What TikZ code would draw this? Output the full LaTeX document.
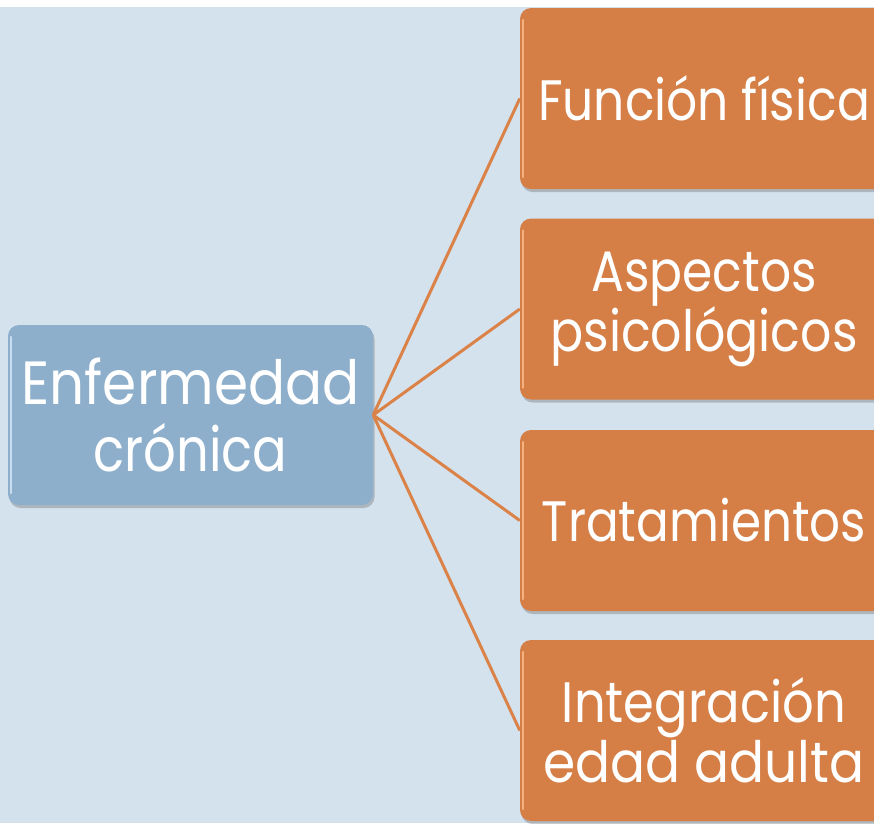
\documentclass[tikz,border=0pt]{standalone}
\usepackage{fontspec}
\setmainfont{Poppins}
\usetikzlibrary{shadows}
\definecolor{bgblue}{HTML}{D4E2ED}
\definecolor{boxorange}{HTML}{D57E46}
\definecolor{boxblue}{HTML}{8EAFCB}
\definecolor{linkorange}{HTML}{DA8248}
\definecolor{hiorange}{HTML}{F4B27F}
\definecolor{hiblue}{HTML}{C9DDF0}
% horizontally condensed line of text
\newcommand{\narrow}[2]{\scalebox{#1}[1]{#2}}
\tikzset{
  box/.style={rectangle, rounded corners=11pt, inner sep=0pt, text=white,
    align=center,
    drop shadow={shadow xshift=1.5pt, shadow yshift=-3pt, opacity=.35, fill=black!60}},
  branch/.style={box, fill=boxorange, minimum width=368pt, minimum height=181pt,
    font=\fontsize{57}{60}\selectfont,
    path picture={\draw[hiorange, line width=2.5pt, line cap=round]
      ([xshift=3pt,yshift=-12pt]path picture bounding box.north west) --
      ([xshift=3pt,yshift=12pt]path picture bounding box.south west);}},
  root/.style={box, fill=boxblue, minimum width=365pt, minimum height=180pt,
    font=\fontsize{61}{67}\selectfont,
    path picture={\draw[hiblue, line width=2.5pt, line cap=round]
      ([xshift=3pt,yshift=-12pt]path picture bounding box.north west) --
      ([xshift=3pt,yshift=12pt]path picture bounding box.south west);}},
  link/.style={linkorange, line width=3pt}
}
\begin{document}
\begin{tikzpicture}[x=1pt,y=-1pt]
  \useasboundingbox (0,0) rectangle (874,823);
  \clip (0,0) rectangle (874,823);
  % backdrop with a white strip along the top edge
  \fill[white] (0,0) rectangle (874,823);
  \fill[bgblue] (0,7) rectangle (874,823);

  % central topic
  \node[root] (c) at (190.5,415) {\narrow{0.90}{Enfermedad}\\\narrow{0.84}{crónica}};

  % branches, running off the right edge
  \node[branch] (b1) at (704,98.5) {\narrow{0.855}{Función física}};
  \node[branch] (b2) at (704,309) {\narrow{0.855}{Aspectos}\\\narrow{0.86}{psicológicos}};
  \node[branch] (b3) at (704,520.5) {\narrow{0.85}{Tratamientos}};
  \node[branch] (b4) at (704,730.5) {\narrow{0.87}{Integración}\\\narrow{0.91}{edad adulta}};

  % connectors
  \foreach \b in {b1,b2,b3,b4}
    \draw[link] (c.east) -- (\b.west);
\end{tikzpicture}
\end{document}
